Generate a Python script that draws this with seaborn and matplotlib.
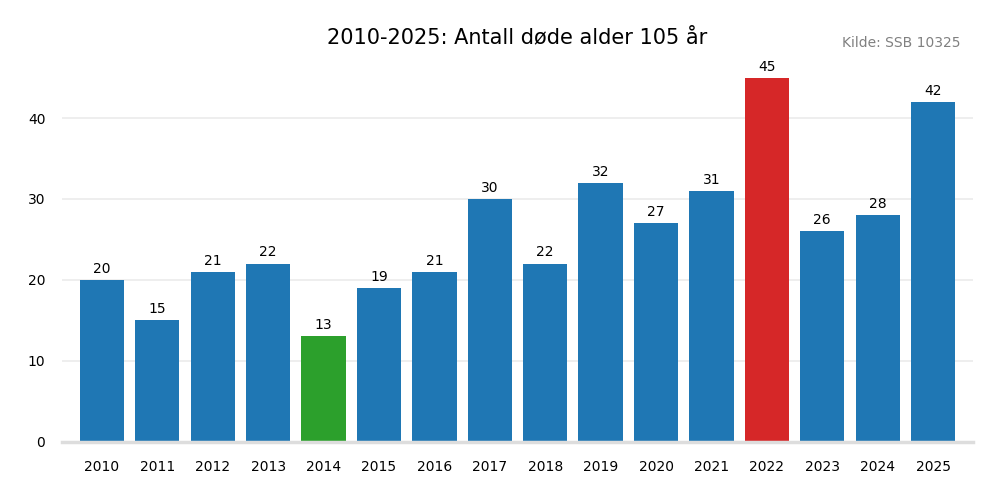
import matplotlib
matplotlib.use("Agg")
import matplotlib.pyplot as plt
import seaborn as sns
import pandas as pd

years = ["2010", "2011", "2012", "2013", "2014", "2015", "2016", "2017",
         "2018", "2019", "2020", "2021", "2022", "2023", "2024", "2025"]
deaths = [20, 15, 21, 22, 13, 19, 21, 30, 22, 32, 27, 31, 45, 26, 28, 42]
title = "2010-2025: Antall døde alder 105 år"
source = "Kilde: SSB 10325"

blue, green, red = "#1f77b4", "#2ca02c", "#d62728"
mn, mx = min(deaths), max(deaths)
colors = [red if v == mx else green if v == mn else blue for v in deaths]

sns.set_theme(style="white")
plt.rcParams['font.family'] = ['DejaVu Sans']

df = pd.DataFrame({"year": years, "deaths": deaths})
fig = plt.figure(figsize=(10, 5), dpi=100)
ax = fig.add_axes([0.062, 0.117, 0.911, 0.764])
sns.barplot(data=df, x="year", y="deaths", hue="year", palette=colors,
            legend=False, width=0.8, saturation=1, linewidth=0,
            edgecolor="none", ax=ax)

for c in ax.containers:
    ax.bar_label(c, padding=3, fontsize=10, color="black")

ax.set_xlim(-0.72, 15.72)
ax.set_ylim(0, 47.25)
ax.set_yticks([0, 10, 20, 30, 40])
ax.yaxis.grid(True, color="#ebebeb", linewidth=1.2)
ax.set_axisbelow(True)
for s in ["top", "right", "left"]:
    ax.spines[s].set_visible(False)
ax.spines["bottom"].set_color("#dddddd")
ax.spines["bottom"].set_linewidth(2.5)
ax.tick_params(axis="both", length=0, labelsize=10, colors="black")
ax.tick_params(axis="x", pad=13)
ax.tick_params(axis="y", pad=12)
ax.set_xlabel("")
ax.set_ylabel("")

fig.text(0.517, 0.925, title, ha="center", va="center", fontsize=15, color="black")
fig.text(0.96, 0.914, source, ha="right", va="center", fontsize=10, color="#808080")

fig.savefig("out.png", dpi=100)
